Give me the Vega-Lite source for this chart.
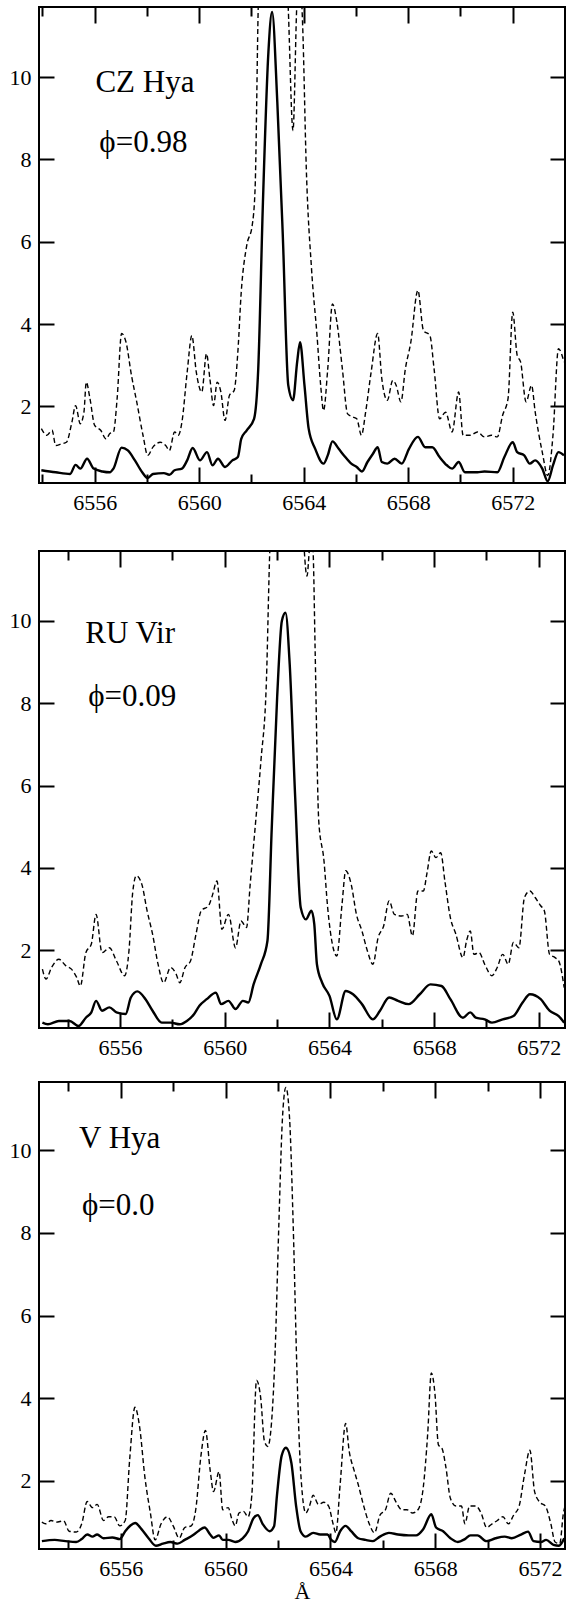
{
"$schema": "https://vega.github.io/schema/vega-lite/v6.json",
"padding": {"left": 8, "top": 5, "right": 0, "bottom": 3},
"background": "white",
"config": {
  "view": {"stroke": "black", "strokeWidth": 2},
  "axis": {"domain": false, "grid": false, "ticks": true, "labelFont": "Liberation Serif", "labelFontSize": 22, "labelColor": "black", "tickColor": "black", "tickWidth": 2, "tickOpacity": 1, "titleFont": "Liberation Serif", "titleFontSize": 22, "titleFontWeight": "normal", "titleColor": "black", "format": "d"},
  "line": {"color": "black"},
  "text": {"font": "Liberation Serif", "fontSize": 31, "align": "left", "baseline": "alphabetic", "color": "black"}
},
"datasets": {
  "p1s": [{"w":6553.96,"f":0.45},{"w":6554.51,"f":0.40},{"w":6555.06,"f":0.36},{"w":6555.27,"f":0.58},{"w":6555.45,"f":0.49},{"w":6555.71,"f":0.73},{"w":6555.96,"f":0.49},{"w":6556.30,"f":0.42},{"w":6556.58,"f":0.40},{"w":6556.72,"f":0.49},{"w":6557.03,"f":1.00},{"w":6557.27,"f":0.93},{"w":6557.54,"f":0.69},{"w":6557.82,"f":0.40},{"w":6558.03,"f":0.26},{"w":6558.23,"f":0.36},{"w":6558.65,"f":0.38},{"w":6558.86,"f":0.34},{"w":6559.06,"f":0.45},{"w":6559.34,"f":0.49},{"w":6559.54,"f":0.69},{"w":6559.75,"f":0.99},{"w":6560.03,"f":0.69},{"w":6560.30,"f":0.89},{"w":6560.51,"f":0.57},{"w":6560.72,"f":0.73},{"w":6560.99,"f":0.53},{"w":6561.27,"f":0.69},{"w":6561.48,"f":0.77},{"w":6561.61,"f":1.21},{"w":6561.82,"f":1.42},{"w":6562.10,"f":1.70},{"w":6562.26,"f":2.91},{"w":6562.44,"f":6.96},{"w":6562.65,"f":10.61},{"w":6562.79,"f":11.58},{"w":6562.99,"f":9.39},{"w":6563.20,"f":6.15},{"w":6563.41,"f":2.51},{"w":6563.59,"f":2.15},{"w":6563.75,"f":3.08},{"w":6563.86,"f":3.56},{"w":6564.03,"f":2.51},{"w":6564.19,"f":1.46},{"w":6564.44,"f":0.97},{"w":6564.76,"f":0.61},{"w":6564.92,"f":0.81},{"w":6565.10,"f":1.15},{"w":6565.34,"f":0.97},{"w":6565.54,"f":0.81},{"w":6565.82,"f":0.61},{"w":6566.03,"f":0.53},{"w":6566.23,"f":0.42},{"w":6566.44,"f":0.65},{"w":6566.65,"f":0.85},{"w":6566.83,"f":1.01},{"w":6566.99,"f":0.65},{"w":6567.20,"f":0.61},{"w":6567.48,"f":0.73},{"w":6567.75,"f":0.61},{"w":6568.03,"f":0.97},{"w":6568.37,"f":1.26},{"w":6568.65,"f":1.01},{"w":6568.92,"f":1.01},{"w":6569.20,"f":0.77},{"w":6569.48,"f":0.57},{"w":6569.68,"f":0.49},{"w":6569.93,"f":0.65},{"w":6570.17,"f":0.40},{"w":6570.65,"f":0.40},{"w":6570.92,"f":0.42},{"w":6571.41,"f":0.40},{"w":6571.68,"f":0.77},{"w":6572.00,"f":1.13},{"w":6572.17,"f":0.89},{"w":6572.44,"f":0.81},{"w":6572.65,"f":0.61},{"w":6572.86,"f":0.69},{"w":6573.13,"f":0.49},{"w":6573.34,"f":0.18},{"w":6573.54,"f":0.57},{"w":6573.75,"f":0.89},{"w":6573.96,"f":0.81}],
  "p1d": [{"w":6553.96,"f":1.46},{"w":6554.17,"f":1.30},{"w":6554.37,"f":1.42},{"w":6554.51,"f":1.05},{"w":6554.72,"f":1.09},{"w":6554.92,"f":1.13},{"w":6555.13,"f":1.62},{"w":6555.27,"f":2.02},{"w":6555.45,"f":1.58},{"w":6555.59,"f":1.86},{"w":6555.68,"f":2.59},{"w":6555.82,"f":2.19},{"w":6556.00,"f":1.54},{"w":6556.23,"f":1.42},{"w":6556.44,"f":1.21},{"w":6556.58,"f":1.34},{"w":6556.72,"f":1.38},{"w":6556.86,"f":2.19},{"w":6557.03,"f":3.77},{"w":6557.20,"f":3.56},{"w":6557.41,"f":2.75},{"w":6557.61,"f":2.11},{"w":6557.85,"f":1.30},{"w":6558.03,"f":0.81},{"w":6558.23,"f":1.01},{"w":6558.51,"f":1.13},{"w":6558.72,"f":1.05},{"w":6558.86,"f":0.93},{"w":6559.06,"f":1.38},{"w":6559.20,"f":1.30},{"w":6559.34,"f":1.62},{"w":6559.54,"f":2.83},{"w":6559.72,"f":3.72},{"w":6559.89,"f":2.83},{"w":6560.10,"f":2.35},{"w":6560.28,"f":3.28},{"w":6560.41,"f":2.67},{"w":6560.55,"f":2.02},{"w":6560.69,"f":2.59},{"w":6560.83,"f":2.35},{"w":6560.99,"f":1.66},{"w":6561.16,"f":2.27},{"w":6561.34,"f":2.39},{"w":6561.48,"f":3.32},{"w":6561.61,"f":4.78},{"w":6561.82,"f":5.91},{"w":6562.03,"f":6.40},{"w":6562.14,"f":7.29},{"w":6562.26,"f":11.7},{"w":6562.5,"f":15},{"w":6563.0,"f":16},{"w":6563.3,"f":13},{"w":6563.40,"f":11.8},{"w":6563.59,"f":8.70},{"w":6563.74,"f":11.8},{"w":6563.85,"f":12.5},{"w":6563.96,"f":11.25},{"w":6564.10,"f":7.77},{"w":6564.30,"f":5.34},{"w":6564.51,"f":3.72},{"w":6564.65,"f":2.51},{"w":6564.76,"f":1.90},{"w":6564.92,"f":2.91},{"w":6565.10,"f":4.49},{"w":6565.27,"f":4.05},{"w":6565.48,"f":2.91},{"w":6565.68,"f":1.82},{"w":6565.89,"f":1.74},{"w":6566.03,"f":1.70},{"w":6566.21,"f":1.30},{"w":6566.37,"f":1.86},{"w":6566.58,"f":2.83},{"w":6566.83,"f":3.77},{"w":6566.99,"f":2.67},{"w":6567.20,"f":2.15},{"w":6567.41,"f":2.63},{"w":6567.54,"f":2.51},{"w":6567.72,"f":2.11},{"w":6567.89,"f":2.91},{"w":6568.10,"f":3.56},{"w":6568.37,"f":4.82},{"w":6568.58,"f":3.85},{"w":6568.83,"f":3.72},{"w":6568.99,"f":2.91},{"w":6569.20,"f":1.70},{"w":6569.43,"f":1.86},{"w":6569.68,"f":1.38},{"w":6569.93,"f":2.35},{"w":6570.10,"f":1.30},{"w":6570.37,"f":1.30},{"w":6570.65,"f":1.38},{"w":6570.92,"f":1.26},{"w":6571.19,"f":1.30},{"w":6571.41,"f":1.26},{"w":6571.61,"f":1.78},{"w":6571.82,"f":2.19},{"w":6572.00,"f":4.29},{"w":6572.17,"f":3.24},{"w":6572.30,"f":3.08},{"w":6572.51,"f":2.11},{"w":6572.72,"f":2.51},{"w":6572.86,"f":1.86},{"w":6573.13,"f":0.89},{"w":6573.34,"f":0.32},{"w":6573.54,"f":1.30},{"w":6573.75,"f":3.40},{"w":6573.96,"f":3.08}],
  "p2s": [{"w":6553.03,"f":0.24},{"w":6553.24,"f":0.20},{"w":6553.66,"f":0.28},{"w":6554.07,"f":0.28},{"w":6554.41,"f":0.16},{"w":6554.69,"f":0.36},{"w":6554.90,"f":0.49},{"w":6555.08,"f":0.77},{"w":6555.31,"f":0.53},{"w":6555.59,"f":0.61},{"w":6555.86,"f":0.49},{"w":6556.21,"f":0.45},{"w":6556.41,"f":0.85},{"w":6556.66,"f":1.00},{"w":6556.97,"f":0.81},{"w":6557.24,"f":0.53},{"w":6557.59,"f":0.24},{"w":6557.93,"f":0.24},{"w":6558.28,"f":0.20},{"w":6558.55,"f":0.28},{"w":6558.83,"f":0.45},{"w":6559.03,"f":0.65},{"w":6559.31,"f":0.81},{"w":6559.66,"f":0.97},{"w":6559.86,"f":0.69},{"w":6560.14,"f":0.77},{"w":6560.41,"f":0.57},{"w":6560.69,"f":0.77},{"w":6560.90,"f":0.73},{"w":6561.10,"f":1.17},{"w":6561.38,"f":1.66},{"w":6561.63,"f":2.23},{"w":6561.79,"f":4.90},{"w":6562.00,"f":8.14},{"w":6562.18,"f":10.0},{"w":6562.32,"f":10.2},{"w":6562.48,"f":8.95},{"w":6562.69,"f":5.71},{"w":6562.90,"f":3.04},{"w":6563.10,"f":2.75},{"w":6563.31,"f":2.96},{"w":6563.42,"f":2.63},{"w":6563.52,"f":1.66},{"w":6563.72,"f":1.21},{"w":6564.00,"f":0.89},{"w":6564.28,"f":0.32},{"w":6564.62,"f":1.01},{"w":6564.90,"f":0.93},{"w":6565.24,"f":0.69},{"w":6565.66,"f":0.32},{"w":6565.93,"f":0.53},{"w":6566.28,"f":0.85},{"w":6566.62,"f":0.77},{"w":6567.03,"f":0.69},{"w":6567.45,"f":0.93},{"w":6567.86,"f":1.17},{"w":6568.28,"f":1.13},{"w":6568.62,"f":0.81},{"w":6569.10,"f":0.36},{"w":6569.38,"f":0.49},{"w":6569.59,"f":0.36},{"w":6569.93,"f":0.32},{"w":6570.21,"f":0.24},{"w":6570.62,"f":0.32},{"w":6571.03,"f":0.40},{"w":6571.38,"f":0.73},{"w":6571.66,"f":0.93},{"w":6572.07,"f":0.81},{"w":6572.41,"f":0.53},{"w":6572.76,"f":0.40},{"w":6572.97,"f":0.24}],
  "p2d": [{"w":6553.03,"f":1.54},{"w":6553.17,"f":1.30},{"w":6553.38,"f":1.58},{"w":6553.66,"f":1.78},{"w":6553.93,"f":1.62},{"w":6554.14,"f":1.54},{"w":6554.34,"f":1.34},{"w":6554.48,"f":1.13},{"w":6554.69,"f":1.94},{"w":6554.90,"f":2.15},{"w":6555.08,"f":2.87},{"w":6555.31,"f":1.94},{"w":6555.59,"f":2.06},{"w":6555.86,"f":1.74},{"w":6556.17,"f":1.38},{"w":6556.34,"f":2.00},{"w":6556.48,"f":3.40},{"w":6556.62,"f":3.81},{"w":6556.83,"f":3.60},{"w":6557.03,"f":2.96},{"w":6557.24,"f":2.39},{"w":6557.45,"f":1.66},{"w":6557.66,"f":1.21},{"w":6557.93,"f":1.58},{"w":6558.14,"f":1.42},{"w":6558.28,"f":1.21},{"w":6558.48,"f":1.58},{"w":6558.69,"f":1.74},{"w":6558.90,"f":2.39},{"w":6559.10,"f":2.96},{"w":6559.38,"f":3.08},{"w":6559.52,"f":3.32},{"w":6559.70,"f":3.68},{"w":6559.89,"f":2.51},{"w":6560.14,"f":2.87},{"w":6560.41,"f":2.06},{"w":6560.62,"f":2.71},{"w":6560.83,"f":2.55},{"w":6560.97,"f":3.60},{"w":6561.17,"f":5.06},{"w":6561.38,"f":6.60},{"w":6561.59,"f":8.54},{"w":6561.72,"f":11.7},{"w":6562.0,"f":14},{"w":6562.5,"f":16},{"w":6562.9,"f":14},{"w":6563.03,"f":11.8},{"w":6563.14,"f":11.09},{"w":6563.24,"f":11.8},{"w":6563.31,"f":12.2},{"w":6563.38,"f":11.6},{"w":6563.45,"f":9.35},{"w":6563.59,"f":5.14},{"w":6563.79,"f":4.17},{"w":6563.93,"f":3.04},{"w":6564.14,"f":2.06},{"w":6564.28,"f":1.86},{"w":6564.48,"f":3.12},{"w":6564.62,"f":3.93},{"w":6564.83,"f":3.60},{"w":6565.03,"f":2.87},{"w":6565.24,"f":2.47},{"w":6565.45,"f":1.98},{"w":6565.66,"f":1.66},{"w":6565.86,"f":2.31},{"w":6566.07,"f":2.59},{"w":6566.28,"f":3.20},{"w":6566.48,"f":2.87},{"w":6566.76,"f":2.83},{"w":6566.97,"f":2.87},{"w":6567.17,"f":2.35},{"w":6567.38,"f":3.44},{"w":6567.59,"f":3.44},{"w":6567.72,"f":3.85},{"w":6567.89,"f":4.41},{"w":6568.07,"f":4.25},{"w":6568.25,"f":4.37},{"w":6568.41,"f":3.68},{"w":6568.62,"f":2.79},{"w":6568.83,"f":2.39},{"w":6569.10,"f":1.82},{"w":6569.24,"f":2.23},{"w":6569.38,"f":2.47},{"w":6569.52,"f":1.90},{"w":6569.72,"f":1.94},{"w":6569.93,"f":1.66},{"w":6570.21,"f":1.38},{"w":6570.41,"f":1.58},{"w":6570.62,"f":1.90},{"w":6570.83,"f":1.66},{"w":6571.03,"f":2.19},{"w":6571.24,"f":2.06},{"w":6571.45,"f":3.28},{"w":6571.66,"f":3.44},{"w":6571.86,"f":3.28},{"w":6572.07,"f":3.08},{"w":6572.21,"f":2.96},{"w":6572.41,"f":1.90},{"w":6572.62,"f":1.82},{"w":6572.76,"f":1.74},{"w":6572.97,"f":1.09}],
  "p3s": [{"w":6552.99,"f":0.54},{"w":6553.48,"f":0.57},{"w":6553.89,"f":0.54},{"w":6554.30,"f":0.52},{"w":6554.51,"f":0.59},{"w":6554.72,"f":0.70},{"w":6554.92,"f":0.65},{"w":6555.10,"f":0.70},{"w":6555.34,"f":0.61},{"w":6555.68,"f":0.63},{"w":6555.96,"f":0.59},{"w":6556.17,"f":0.78},{"w":6556.37,"f":0.92},{"w":6556.55,"f":0.98},{"w":6556.79,"f":0.83},{"w":6557.06,"f":0.61},{"w":6557.34,"f":0.43},{"w":6557.61,"f":0.48},{"w":6557.89,"f":0.52},{"w":6558.17,"f":0.48},{"w":6558.44,"f":0.57},{"w":6558.79,"f":0.70},{"w":6558.99,"f":0.80},{"w":6559.20,"f":0.87},{"w":6559.41,"f":0.70},{"w":6559.54,"f":0.62},{"w":6559.75,"f":0.68},{"w":6559.89,"f":0.57},{"w":6560.10,"f":0.57},{"w":6560.37,"f":0.52},{"w":6560.65,"f":0.61},{"w":6560.86,"f":0.78},{"w":6561.06,"f":1.09},{"w":6561.23,"f":1.17},{"w":6561.41,"f":0.96},{"w":6561.68,"f":0.78},{"w":6561.85,"f":0.90},{"w":6561.96,"f":1.65},{"w":6562.14,"f":2.61},{"w":6562.30,"f":2.80},{"w":6562.51,"f":2.43},{"w":6562.69,"f":1.39},{"w":6562.86,"f":0.78},{"w":6563.06,"f":0.65},{"w":6563.34,"f":0.74},{"w":6563.61,"f":0.70},{"w":6563.89,"f":0.70},{"w":6564.03,"f":0.57},{"w":6564.17,"f":0.52},{"w":6564.37,"f":0.78},{"w":6564.58,"f":0.91},{"w":6564.79,"f":0.78},{"w":6565.06,"f":0.61},{"w":6565.34,"f":0.57},{"w":6565.61,"f":0.54},{"w":6565.89,"f":0.65},{"w":6566.23,"f":0.74},{"w":6566.58,"f":0.70},{"w":6566.99,"f":0.68},{"w":6567.27,"f":0.68},{"w":6567.54,"f":0.83},{"w":6567.85,"f":1.19},{"w":6568.03,"f":0.87},{"w":6568.30,"f":0.78},{"w":6568.58,"f":0.61},{"w":6568.86,"f":0.52},{"w":6569.13,"f":0.59},{"w":6569.34,"f":0.68},{"w":6569.61,"f":0.68},{"w":6569.96,"f":0.54},{"w":6570.30,"f":0.61},{"w":6570.65,"f":0.65},{"w":6570.92,"f":0.61},{"w":6571.27,"f":0.70},{"w":6571.54,"f":0.77},{"w":6571.75,"f":0.54},{"w":6572.03,"f":0.52},{"w":6572.23,"f":0.57},{"w":6572.51,"f":0.45},{"w":6572.72,"f":0.43},{"w":6572.92,"f":0.61}],
  "p3d": [{"w":6552.99,"f":1.00},{"w":6553.13,"f":0.96},{"w":6553.34,"f":1.04},{"w":6553.54,"f":1.00},{"w":6553.82,"f":1.03},{"w":6554.03,"f":0.78},{"w":6554.30,"f":0.76},{"w":6554.51,"f":0.96},{"w":6554.72,"f":1.50},{"w":6554.92,"f":1.35},{"w":6555.10,"f":1.43},{"w":6555.34,"f":1.04},{"w":6555.54,"f":1.13},{"w":6555.75,"f":1.13},{"w":6555.96,"f":0.91},{"w":6556.17,"f":1.04},{"w":6556.34,"f":2.52},{"w":6556.54,"f":3.78},{"w":6556.72,"f":3.30},{"w":6556.92,"f":2.09},{"w":6557.13,"f":1.22},{"w":6557.31,"f":0.57},{"w":6557.54,"f":0.96},{"w":6557.78,"f":1.13},{"w":6558.00,"f":0.91},{"w":6558.23,"f":0.61},{"w":6558.44,"f":0.87},{"w":6558.69,"f":0.91},{"w":6558.86,"f":1.30},{"w":6559.06,"f":2.61},{"w":6559.23,"f":3.22},{"w":6559.41,"f":2.26},{"w":6559.54,"f":1.74},{"w":6559.75,"f":2.22},{"w":6559.89,"f":1.30},{"w":6560.10,"f":1.35},{"w":6560.23,"f":1.09},{"w":6560.37,"f":0.91},{"w":6560.51,"f":1.22},{"w":6560.68,"f":1.26},{"w":6560.86,"f":1.13},{"w":6561.00,"f":1.65},{"w":6561.18,"f":4.43},{"w":6561.34,"f":4.00},{"w":6561.48,"f":2.96},{"w":6561.61,"f":2.83},{"w":6561.75,"f":3.39},{"w":6561.89,"f":5.13},{"w":6562.03,"f":8.17},{"w":6562.17,"f":10.78},{"w":6562.30,"f":11.52},{"w":6562.44,"f":10.78},{"w":6562.58,"f":8.17},{"w":6562.72,"f":4.70},{"w":6562.86,"f":2.26},{"w":6563.06,"f":1.22},{"w":6563.20,"f":1.39},{"w":6563.34,"f":1.65},{"w":6563.54,"f":1.43},{"w":6563.75,"f":1.48},{"w":6563.93,"f":1.39},{"w":6564.10,"f":0.96},{"w":6564.21,"f":0.74},{"w":6564.37,"f":1.91},{"w":6564.58,"f":3.39},{"w":6564.72,"f":2.70},{"w":6564.90,"f":2.26},{"w":6565.06,"f":1.91},{"w":6565.27,"f":1.39},{"w":6565.48,"f":0.96},{"w":6565.68,"f":0.74},{"w":6565.89,"f":1.17},{"w":6566.10,"f":1.30},{"w":6566.30,"f":1.70},{"w":6566.51,"f":1.48},{"w":6566.72,"f":1.30},{"w":6566.92,"f":1.30},{"w":6567.13,"f":1.22},{"w":6567.34,"f":1.30},{"w":6567.54,"f":1.83},{"w":6567.71,"f":3.13},{"w":6567.85,"f":4.61},{"w":6567.99,"f":4.09},{"w":6568.12,"f":2.87},{"w":6568.26,"f":2.78},{"w":6568.40,"f":2.35},{"w":6568.58,"f":1.57},{"w":6568.79,"f":1.39},{"w":6569.00,"f":1.39},{"w":6569.13,"f":0.96},{"w":6569.31,"f":1.39},{"w":6569.54,"f":1.39},{"w":6569.75,"f":1.22},{"w":6569.96,"f":0.87},{"w":6570.17,"f":0.96},{"w":6570.37,"f":1.04},{"w":6570.58,"f":1.13},{"w":6570.79,"f":0.96},{"w":6570.99,"f":1.17},{"w":6571.20,"f":1.39},{"w":6571.41,"f":2.17},{"w":6571.61,"f":2.74},{"w":6571.79,"f":1.74},{"w":6571.99,"f":1.48},{"w":6572.20,"f":1.39},{"w":6572.41,"f":0.96},{"w":6572.57,"f":0.52},{"w":6572.75,"f":0.48},{"w":6572.89,"f":1.22},{"w":6573.03,"f":1.48}],
  "p1t": [{"w":6556.03,"f":9.63,"t":"CZ Hya"},{"w":6556.18,"f":8.18,"t":"ϕ=0.98"}],
  "p2t": [{"w":6554.67,"f":9.47,"t":"RU Vir"},{"w":6554.78,"f":7.93,"t":"ϕ=0.09"}],
  "p3t": [{"w":6554.41,"f":10.06,"t":"V Hya"},{"w":6554.52,"f":8.43,"t":"ϕ=0.0"}]
},
"spacing": 21,
"vconcat": [
 {"spacing": 35, "vconcat": [
  {"width": 526, "height": 476,
   "resolve": {"axis": {"x": "independent", "y": "independent"}},
   "layer": [
    {"data": {"name": "p1s"}, "mark": {"type": "line", "strokeWidth": 2.4, "clip": true, "interpolate": "monotone"},
     "encoding": {"x": {"field": "w", "type": "quantitative", "scale": {"domain": [6553.87, 6574.0], "nice": false, "zero": false}, "axis": {"orient": "bottom", "values": [6556, 6560, 6564, 6568, 6572], "ticks": true, "tickSize": 16, "offset": -16, "labelPadding": 9, "title": null, "zindex": 1}},
                  "y": {"field": "f", "type": "quantitative", "scale": {"domain": [0.14, 11.7], "nice": false, "zero": false}, "axis": {"orient": "left", "values": [2, 4, 6, 8, 10], "ticks": true, "tickSize": 15, "offset": -15, "labelPadding": 8, "title": null, "zindex": 1}}}},
    {"data": {"name": "p1d"}, "mark": {"type": "line", "strokeWidth": 1.4, "strokeDash": [5, 3], "clip": true, "interpolate": "monotone"},
     "encoding": {"x": {"field": "w", "type": "quantitative", "scale": {"domain": [6553.87, 6574.0], "nice": false, "zero": false}, "axis": {"orient": "top", "values": [6556, 6560, 6564, 6568, 6572], "ticks": true, "offset": -16, "tickSize": 16, "labels": false, "title": null, "zindex": 1}},
                  "y": {"field": "f", "type": "quantitative", "scale": {"domain": [0.14, 11.7], "nice": false, "zero": false}, "axis": {"orient": "right", "values": [2, 4, 6, 8, 10], "ticks": true, "offset": -15, "tickSize": 15, "labels": false, "title": null, "zindex": 1}}}},
    {"data": {"name": "p1s"}, "mark": {"type": "line", "opacity": 0},
     "encoding": {"x": {"field": "w", "type": "quantitative", "scale": {"domain": [6553.87, 6574.0], "nice": false, "zero": false}, "axis": {"orient": "bottom", "values": [6554, 6558, 6562, 6566, 6570], "ticks": true, "offset": -9, "tickSize": 9, "labels": false, "title": null, "zindex": 1}},
                  "y": {"field": "f", "type": "quantitative", "axis": null}}},
    {"data": {"name": "p1s"}, "mark": {"type": "line", "opacity": 0},
     "encoding": {"x": {"field": "w", "type": "quantitative", "scale": {"domain": [6553.87, 6574.0], "nice": false, "zero": false}, "axis": {"orient": "top", "values": [6554, 6558, 6562, 6566, 6570], "ticks": true, "offset": -9, "tickSize": 9, "labels": false, "title": null, "zindex": 1}},
                  "y": {"field": "f", "type": "quantitative", "axis": null}}},
    {"data": {"name": "p1t"}, "mark": {"type": "text"},
     "encoding": {"x": {"field": "w", "type": "quantitative", "axis": null}, "y": {"field": "f", "type": "quantitative", "axis": null}, "text": {"field": "t"}}}
   ]},
  {"width": 526, "height": 477,
   "resolve": {"axis": {"x": "independent", "y": "independent"}},
   "layer": [
    {"data": {"name": "p2s"}, "mark": {"type": "line", "strokeWidth": 2.4, "clip": true, "interpolate": "monotone"},
     "encoding": {"x": {"field": "w", "type": "quantitative", "scale": {"domain": [6552.9, 6573.0], "nice": false, "zero": false}, "axis": {"orient": "bottom", "values": [6556, 6560, 6564, 6568, 6572], "ticks": true, "tickSize": 16, "offset": -16, "labelPadding": 9, "title": null, "zindex": 1}},
                  "y": {"field": "f", "type": "quantitative", "scale": {"domain": [0.11, 11.7], "nice": false, "zero": false}, "axis": {"orient": "left", "values": [2, 4, 6, 8, 10], "ticks": true, "tickSize": 15, "offset": -15, "labelPadding": 8, "title": null, "zindex": 1}}}},
    {"data": {"name": "p2d"}, "mark": {"type": "line", "strokeWidth": 1.4, "strokeDash": [5, 3], "clip": true, "interpolate": "monotone"},
     "encoding": {"x": {"field": "w", "type": "quantitative", "scale": {"domain": [6552.9, 6573.0], "nice": false, "zero": false}, "axis": {"orient": "top", "values": [6556, 6560, 6564, 6568, 6572], "ticks": true, "offset": -16, "tickSize": 16, "labels": false, "title": null, "zindex": 1}},
                  "y": {"field": "f", "type": "quantitative", "scale": {"domain": [0.11, 11.7], "nice": false, "zero": false}, "axis": {"orient": "right", "values": [2, 4, 6, 8, 10], "ticks": true, "offset": -15, "tickSize": 15, "labels": false, "title": null, "zindex": 1}}}},
    {"data": {"name": "p2s"}, "mark": {"type": "line", "opacity": 0},
     "encoding": {"x": {"field": "w", "type": "quantitative", "scale": {"domain": [6552.9, 6573.0], "nice": false, "zero": false}, "axis": {"orient": "bottom", "values": [6554, 6558, 6562, 6566, 6570], "ticks": true, "offset": -9, "tickSize": 9, "labels": false, "title": null, "zindex": 1}},
                  "y": {"field": "f", "type": "quantitative", "axis": null}}},
    {"data": {"name": "p2s"}, "mark": {"type": "line", "opacity": 0},
     "encoding": {"x": {"field": "w", "type": "quantitative", "scale": {"domain": [6552.9, 6573.0], "nice": false, "zero": false}, "axis": {"orient": "top", "values": [6554, 6558, 6562, 6566, 6570], "ticks": true, "offset": -9, "tickSize": 9, "labels": false, "title": null, "zindex": 1}},
                  "y": {"field": "f", "type": "quantitative", "axis": null}}},
    {"data": {"name": "p2t"}, "mark": {"type": "text"},
     "encoding": {"x": {"field": "w", "type": "quantitative", "axis": null}, "y": {"field": "f", "type": "quantitative", "axis": null}, "text": {"field": "t"}}}
   ]}
 ]},
 {"width": 526, "height": 467,
  "resolve": {"axis": {"x": "independent", "y": "independent"}},
  "layer": [
    {"data": {"name": "p3s"}, "mark": {"type": "line", "strokeWidth": 2.4, "clip": true, "interpolate": "monotone"},
     "encoding": {"x": {"field": "w", "type": "quantitative", "scale": {"domain": [6552.88, 6572.95], "nice": false, "zero": false}, "axis": {"orient": "bottom", "values": [6556, 6560, 6564, 6568, 6572], "ticks": true, "tickSize": 16, "offset": -16, "labelPadding": 9, "title": "Å", "titlePadding": 2, "zindex": 1}},
                  "y": {"field": "f", "type": "quantitative", "scale": {"domain": [0.35, 11.65], "nice": false, "zero": false}, "axis": {"orient": "left", "values": [2, 4, 6, 8, 10], "ticks": true, "tickSize": 15, "offset": -15, "labelPadding": 8, "title": null, "zindex": 1}}}},
    {"data": {"name": "p3d"}, "mark": {"type": "line", "strokeWidth": 1.4, "strokeDash": [5, 3], "clip": true, "interpolate": "monotone"},
     "encoding": {"x": {"field": "w", "type": "quantitative", "scale": {"domain": [6552.88, 6572.95], "nice": false, "zero": false}, "axis": {"orient": "top", "values": [6556, 6560, 6564, 6568, 6572], "ticks": true, "offset": -16, "tickSize": 16, "labels": false, "title": null, "zindex": 1}},
                  "y": {"field": "f", "type": "quantitative", "scale": {"domain": [0.35, 11.65], "nice": false, "zero": false}, "axis": {"orient": "right", "values": [2, 4, 6, 8, 10], "ticks": true, "offset": -15, "tickSize": 15, "labels": false, "title": null, "zindex": 1}}}},
    {"data": {"name": "p3s"}, "mark": {"type": "line", "opacity": 0},
     "encoding": {"x": {"field": "w", "type": "quantitative", "scale": {"domain": [6552.88, 6572.95], "nice": false, "zero": false}, "axis": {"orient": "bottom", "values": [6554, 6558, 6562, 6566, 6570], "ticks": true, "offset": -9, "tickSize": 9, "labels": false, "title": null, "zindex": 1}},
                  "y": {"field": "f", "type": "quantitative", "axis": null}}},
    {"data": {"name": "p3s"}, "mark": {"type": "line", "opacity": 0},
     "encoding": {"x": {"field": "w", "type": "quantitative", "scale": {"domain": [6552.88, 6572.95], "nice": false, "zero": false}, "axis": {"orient": "top", "values": [6554, 6558, 6562, 6566, 6570], "ticks": true, "offset": -9, "tickSize": 9, "labels": false, "title": null, "zindex": 1}},
                  "y": {"field": "f", "type": "quantitative", "axis": null}}},
    {"data": {"name": "p3t"}, "mark": {"type": "text"},
     "encoding": {"x": {"field": "w", "type": "quantitative", "axis": null}, "y": {"field": "f", "type": "quantitative", "axis": null}, "text": {"field": "t"}}}
  ]}
]
}
